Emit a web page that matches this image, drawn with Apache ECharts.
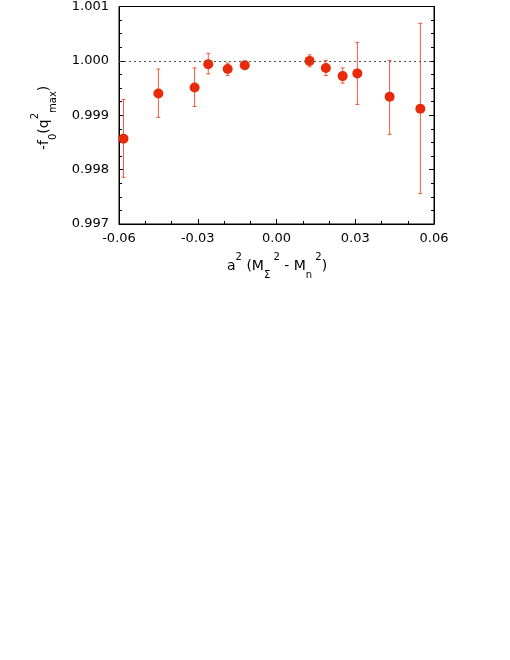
<!DOCTYPE html>
<html>
<head>
<meta charset="utf-8">
<script src="https://cdn.jsdelivr.net/npm/echarts@6/dist/echarts.min.js"></script>
<style>
  html, body { margin: 0; padding: 0; background: #fff; }
  #main { width: 510px; height: 660px; }
</style>
</head>
<body>
<div id="main"></div>
<script>
// a^2 (M_Sigma^2 - M_n^2) values
var xVals = [-0.0583, -0.0450, -0.0312, -0.0260, -0.0186, -0.0121, 0.0126, 0.0188, 0.0252, 0.0308, 0.0431, 0.0548];
// -f0(q^2_max)
var fVals = [0.99857, 0.99940, 0.99951, 0.99994, 0.99985, 0.99992, 1.00000, 0.99987, 0.99972, 0.99977, 0.99934, 0.99912];
var errLow = [0.99786, 0.99896, 0.99916, 0.99976, 0.99973, 0.99984, 0.99989, 0.99973, 0.99959, 0.99920, 0.99865, 0.99756];
var errHigh = [0.99929, 0.99985, 0.99987, 1.00014, 0.99996, 0.99999, 1.00011, 1.00001, 0.99987, 1.00034, 1.00001, 1.00069];
var refLine = 1.0;

var points = xVals.map(function (x, i) { return [x, fVals[i]]; });
var bars = xVals.map(function (x, i) { return [x, errLow[i], errHigh[i]]; });

var chart = echarts.init(document.getElementById('main'));
var font = 'DejaVu Sans';

function yAxisCfg(pos, labels) {
    return {
        type: 'value', min: 0.997, max: 1.001, interval: 0.001, position: pos,
        axisLine: { show: true, onZero: false, lineStyle: { color: '#000' } },
        axisTick: { inside: true, length: 5, lineStyle: { color: '#000' } },
        minorTick: { show: true, splitNumber: 4, length: 3, lineStyle: { color: '#000' } },
        splitLine: { show: false },
        axisLabel: {
            show: labels, color: '#000', fontFamily: font, fontSize: 13, margin: 10,
            formatter: function (v) { return v.toFixed(3); }
        }
    };
}

var option = {
    animation: false,
    grid: { left: 119, right: 76, top: 4, bottom: 436, show: true, borderColor: '#000', borderWidth: 1 },
    xAxis: {
        type: 'value', min: -0.06, max: 0.06, interval: 0.03,
        axisLine: { show: true, onZero: false, lineStyle: { color: '#000' } },
        axisTick: { inside: true, length: 5, lineStyle: { color: '#000' } },
        minorTick: { show: true, splitNumber: 3, length: 3, lineStyle: { color: '#000' } },
        splitLine: { show: false },
        axisLabel: {
            color: '#000', fontFamily: font, fontSize: 13, margin: 8,
            formatter: function (v) { return v.toFixed(2); }
        }
    },
    yAxis: [yAxisCfg('left', true), yAxisCfg('right', false)],
    series: [{
        type: 'custom',
        data: bars,
        z: 2,
        renderItem: function (params, api) {
            var top = api.coord([api.value(0), api.value(2)]);
            var bot = api.coord([api.value(0), api.value(1)]);
            var w = 2;
            var st = { stroke: '#f0583c', lineWidth: 1 };
            return {
                type: 'group',
                children: [
                    { type: 'line', shape: { x1: top[0], y1: top[1], x2: bot[0], y2: bot[1] }, style: st },
                    { type: 'line', shape: { x1: top[0] - w, y1: top[1], x2: top[0] + w, y2: top[1] }, style: st },
                    { type: 'line', shape: { x1: bot[0] - w, y1: bot[1], x2: bot[0] + w, y2: bot[1] }, style: st }
                ]
            };
        }
    }, {
        type: 'scatter',
        data: points,
        z: 3,
        symbolSize: 10,
        itemStyle: { color: '#e82a0a', opacity: 1 },
        markLine: {
            silent: true,
            symbol: 'none',
            label: { show: false },
            lineStyle: { color: '#555', type: [2, 3], width: 1 },
            data: [{ yAxis: refLine }]
        }
    }],
    graphic: [{
        type: 'text',
        left: 227, top: 252,
        style: {
            text: 'a{sup|2} (M{sub|Σ}{sup| 2} - M{sub|n}{sup| 2})',
            font: '14px ' + font,
            fill: '#000',
            lineHeight: 28,
            rich: {
                sup: { fontSize: 10, fontFamily: font, fill: '#000', verticalAlign: 'top', lineHeight: 12 },
                sub: { fontSize: 10, fontFamily: font, fill: '#000', verticalAlign: 'bottom', lineHeight: 10 }
            }
        }
    }, {
        type: 'text',
        x: 30, y: 150,
        rotation: Math.PI / 2,
        style: {
            text: '-f{sub|0}(q{sup|2}{sub|max})',
            font: '14px ' + font,
            fill: '#000',
            lineHeight: 28,
            rich: {
                sup: { fontSize: 10, fontFamily: font, fill: '#000', verticalAlign: 'top', lineHeight: 12 },
                sub: { fontSize: 10, fontFamily: font, fill: '#000', verticalAlign: 'bottom', lineHeight: 10 }
            }
        }
    }]
};

chart.setOption(option);
</script>
</body>
</html>
